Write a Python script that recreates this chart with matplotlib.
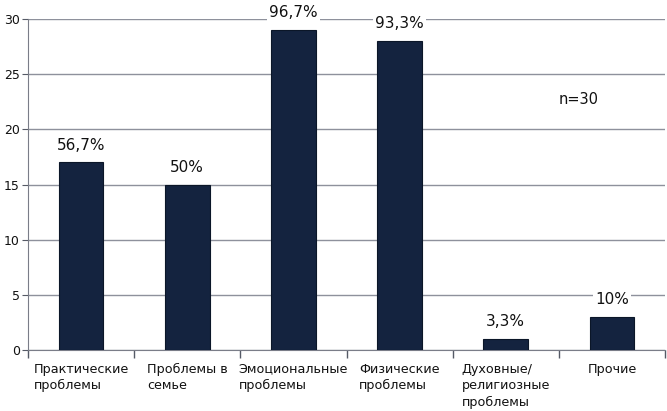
import matplotlib.pyplot as plt
import numpy as np

categories = ['Практические\nпроблемы', 'Проблемы в\nсемье', 'Эмоциональные\nпроблемы',
              'Физические\nпроблемы', 'Духовные/\nрелигиозные\nпроблемы', 'Прочие']
counts = [17, 15, 29, 28, 1, 3]
percent_labels = ['56,7%', '50%', '96,7%', '93,3%', '3,3%', '10%']
n_label = 'n=30'


def main():
    plt.rcParams['font.family'] = ['DejaVu Sans']
    fig = plt.figure(figsize=(6.67, 4.11), dpi=100)
    ax = fig.add_axes([0.042, 0.148, 0.955, 0.806])

    x = np.arange(len(categories))
    ax.bar(x, counts, width=0.42, color='#14233f', edgecolor='#0b1628', linewidth=0.8, zorder=3)

    for xi, c, lab in zip(x, counts, percent_labels):
        ax.text(xi, c + 0.9, lab, ha='center', va='bottom', fontsize=11, color='#111111',
                zorder=4, bbox=dict(facecolor='white', edgecolor='none', pad=1.5))

    ax.text(4.5, 22.7, n_label, ha='left', va='center', fontsize=10.5, color='#111111')

    ax.set_xlim(-0.5, len(categories) - 0.5)
    ax.set_ylim(0, 30)
    ax.set_yticks(np.arange(0, 31, 5))
    ax.yaxis.grid(True, color='#8e919c', linewidth=1.0, zorder=0)
    ax.tick_params(axis='y', labelsize=9, colors='#555a66', labelcolor='#111111', length=4, pad=2)

    # category borders as ticks, labels in the middle
    ax.set_xticks(np.arange(-0.5, len(categories), 1.0))
    ax.set_xticklabels([])
    ax.tick_params(axis='x', length=6, colors='#555a66', width=1)
    ax.set_xticks(x, minor=True)
    ax.set_xticklabels(categories, minor=True, fontsize=9.2, multialignment='left',
                       va='top', linespacing=1.35)
    ax.tick_params(axis='x', which='minor', length=0, pad=9, labelcolor='#111111')

    for side in ['top', 'right']:
        ax.spines[side].set_visible(False)
    ax.spines['left'].set_color('#7a7d88')
    ax.spines['bottom'].set_color('#7a7d88')

    fig.savefig('out.png', dpi=100)


if __name__ == "__main__": main()
